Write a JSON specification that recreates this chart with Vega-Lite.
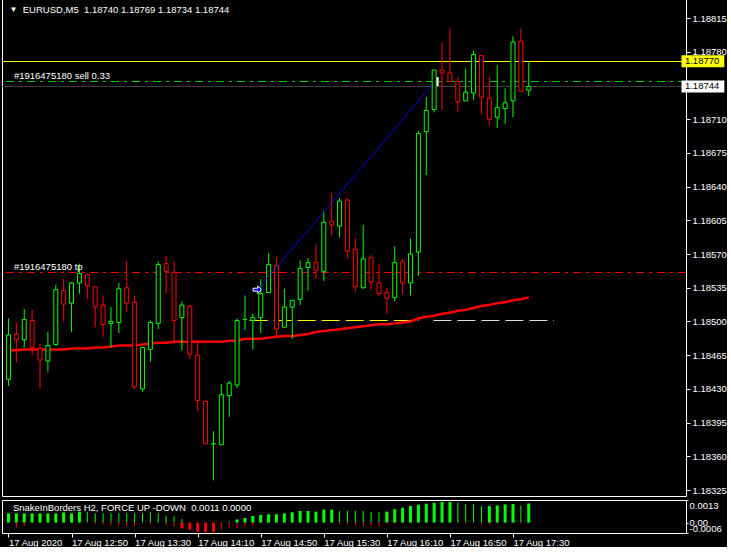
{
"$schema": "https://vega.github.io/schema/vega-lite/v6.json",
"background": "#000000",
"padding": {"left": 1, "top": -2, "right": 0, "bottom": 0},
"spacing": 2,
"config": {
  "view": {"stroke": "#ffffff", "strokeWidth": 1},
  "font": "Liberation Sans",
  "text": {"font": "Liberation Sans", "fontSize": 9.5, "color": "#ffffff"}
},
"datasets": {
  "candles": [
    {"i":0,"o":1.18440,"h":1.18503,"l":1.18433,"c":1.18486,"ma":1.18470},
    {"i":1,"o":1.18487,"h":1.18499,"l":1.18457,"c":1.18481,"ma":1.18470},
    {"i":2,"o":1.18481,"h":1.18513,"l":1.18473,"c":1.18502,"ma":1.18471},
    {"i":3,"o":1.18501,"h":1.18512,"l":1.18465,"c":1.18473,"ma":1.18471},
    {"i":4,"o":1.18472,"h":1.18477,"l":1.18430,"c":1.18460,"ma":1.18471},
    {"i":5,"o":1.18459,"h":1.18489,"l":1.18448,"c":1.18475,"ma":1.18471},
    {"i":6,"o":1.18476,"h":1.18538,"l":1.18475,"c":1.18533,"ma":1.18471},
    {"i":7,"o":1.18532,"h":1.18544,"l":1.18500,"c":1.18518,"ma":1.18471},
    {"i":8,"o":1.18519,"h":1.18541,"l":1.18489,"c":1.18540,"ma":1.18472},
    {"i":9,"o":1.18540,"h":1.18560,"l":1.18529,"c":1.18550,"ma":1.18472},
    {"i":10,"o":1.18549,"h":1.18549,"l":1.18523,"c":1.18537,"ma":1.18472},
    {"i":11,"o":1.18536,"h":1.18536,"l":1.18494,"c":1.18515,"ma":1.18473},
    {"i":12,"o":1.18517,"h":1.18527,"l":1.18484,"c":1.18497,"ma":1.18473},
    {"i":13,"o":1.18498,"h":1.18515,"l":1.18473,"c":1.18500,"ma":1.18474},
    {"i":14,"o":1.18499,"h":1.18540,"l":1.18488,"c":1.18534,"ma":1.18475},
    {"i":15,"o":1.18535,"h":1.18563,"l":1.18510,"c":1.18519,"ma":1.18475},
    {"i":16,"o":1.18520,"h":1.18527,"l":1.18430,"c":1.18432,"ma":1.18475},
    {"i":17,"o":1.18430,"h":1.18473,"l":1.18427,"c":1.18473,"ma":1.18476},
    {"i":18,"o":1.18471,"h":1.18501,"l":1.18458,"c":1.18499,"ma":1.18477},
    {"i":19,"o":1.18498,"h":1.18562,"l":1.18492,"c":1.18559,"ma":1.18478},
    {"i":20,"o":1.18560,"h":1.18568,"l":1.18529,"c":1.18552,"ma":1.18478},
    {"i":21,"o":1.18551,"h":1.18562,"l":1.18476,"c":1.18501,"ma":1.18479},
    {"i":22,"o":1.18504,"h":1.18521,"l":1.18470,"c":1.18517,"ma":1.18479},
    {"i":23,"o":1.18516,"h":1.18517,"l":1.18461,"c":1.18466,"ma":1.18479},
    {"i":24,"o":1.18465,"h":1.18478,"l":1.18407,"c":1.18418,"ma":1.18479},
    {"i":25,"o":1.18417,"h":1.18418,"l":1.18373,"c":1.18373,"ma":1.18479},
    {"i":26,"o":1.18373,"h":1.18386,"l":1.18335,"c":1.18373,"ma":1.18479},
    {"i":27,"o":1.18372,"h":1.18435,"l":1.18372,"c":1.18424,"ma":1.18479},
    {"i":28,"o":1.18423,"h":1.18438,"l":1.18401,"c":1.18436,"ma":1.18480},
    {"i":29,"o":1.18434,"h":1.18503,"l":1.18431,"c":1.18501,"ma":1.18480},
    {"i":30,"o":1.18502,"h":1.18527,"l":1.18491,"c":1.18502,"ma":1.18482},
    {"i":31,"o":1.18501,"h":1.18508,"l":1.18471,"c":1.18504,"ma":1.18482},
    {"i":32,"o":1.18504,"h":1.18544,"l":1.18488,"c":1.18529,"ma":1.18482},
    {"i":33,"o":1.18530,"h":1.18571,"l":1.18530,"c":1.18559,"ma":1.18483},
    {"i":34,"o":1.18558,"h":1.18567,"l":1.18485,"c":1.18492,"ma":1.18484},
    {"i":35,"o":1.18494,"h":1.18534,"l":1.18494,"c":1.18515,"ma":1.18485},
    {"i":36,"o":1.18515,"h":1.18522,"l":1.18482,"c":1.18522,"ma":1.18485},
    {"i":37,"o":1.18523,"h":1.18563,"l":1.18517,"c":1.18555,"ma":1.18486},
    {"i":38,"o":1.18556,"h":1.18566,"l":1.18532,"c":1.18561,"ma":1.18487},
    {"i":39,"o":1.18561,"h":1.18580,"l":1.18544,"c":1.18553,"ma":1.18489},
    {"i":40,"o":1.18552,"h":1.18615,"l":1.18542,"c":1.18603,"ma":1.18490},
    {"i":41,"o":1.18604,"h":1.18633,"l":1.18589,"c":1.18600,"ma":1.18491},
    {"i":42,"o":1.18599,"h":1.18628,"l":1.18587,"c":1.18625,"ma":1.18492},
    {"i":43,"o":1.18626,"h":1.18628,"l":1.18566,"c":1.18573,"ma":1.18493},
    {"i":44,"o":1.18575,"h":1.18586,"l":1.18531,"c":1.18536,"ma":1.18494},
    {"i":45,"o":1.18535,"h":1.18600,"l":1.18534,"c":1.18565,"ma":1.18495},
    {"i":46,"o":1.18566,"h":1.18569,"l":1.18533,"c":1.18541,"ma":1.18496},
    {"i":47,"o":1.18540,"h":1.18559,"l":1.18526,"c":1.18529,"ma":1.18497},
    {"i":48,"o":1.18530,"h":1.18535,"l":1.18508,"c":1.18524,"ma":1.18497},
    {"i":49,"o":1.18525,"h":1.18578,"l":1.18521,"c":1.18561,"ma":1.18498},
    {"i":50,"o":1.18562,"h":1.18565,"l":1.18528,"c":1.18540,"ma":1.18499},
    {"i":51,"o":1.18540,"h":1.18586,"l":1.18527,"c":1.18570,"ma":1.18500},
    {"i":52,"o":1.18572,"h":1.18698,"l":1.18547,"c":1.18695,"ma":1.18503},
    {"i":53,"o":1.18697,"h":1.18733,"l":1.18652,"c":1.18719,"ma":1.18505},
    {"i":54,"o":1.18720,"h":1.18761,"l":1.18717,"c":1.18761,"ma":1.18506},
    {"i":55,"o":1.18761,"h":1.18790,"l":1.18719,"c":1.18758,"ma":1.18508},
    {"i":56,"o":1.18758,"h":1.18804,"l":1.18749,"c":1.18749,"ma":1.18509},
    {"i":57,"o":1.18749,"h":1.18753,"l":1.18718,"c":1.18728,"ma":1.18511},
    {"i":58,"o":1.18729,"h":1.18762,"l":1.18729,"c":1.18738,"ma":1.18512},
    {"i":59,"o":1.18737,"h":1.18781,"l":1.18730,"c":1.18777,"ma":1.18514},
    {"i":60,"o":1.18776,"h":1.18776,"l":1.18715,"c":1.18733,"ma":1.18516},
    {"i":61,"o":1.18732,"h":1.18754,"l":1.18703,"c":1.18710,"ma":1.18517},
    {"i":62,"o":1.18712,"h":1.18766,"l":1.18701,"c":1.18722,"ma":1.18519},
    {"i":63,"o":1.18721,"h":1.18742,"l":1.18705,"c":1.18727,"ma":1.18520},
    {"i":64,"o":1.18729,"h":1.18796,"l":1.18712,"c":1.18790,"ma":1.18522},
    {"i":65,"o":1.18791,"h":1.18804,"l":1.18739,"c":1.18739,"ma":1.18523},
    {"i":66,"o":1.18740,"h":1.18769,"l":1.18734,"c":1.18744,"ma":1.18525}
  ],
  "ind": [
    {"i":0,"v":0.00053,"kind":"up"},{"i":1,"v":0.00053,"kind":"up"},{"i":2,"v":0.00053,"kind":"up"},{"i":3,"v":0.00053,"kind":"up"},
    {"i":4,"v":0.00053,"kind":"up"},{"i":5,"v":0.00053,"kind":"up"},{"i":6,"v":0.00053,"kind":"up"},{"i":7,"v":0.00059,"kind":"up"},
    {"i":8,"v":0.00053,"kind":"up"},{"i":9,"v":0.00063,"kind":"up"},
    {"i":10,"v":0.00059,"kind":"upw"},{"i":11,"v":0.00053,"kind":"upw"},{"i":12,"v":0.00053,"kind":"upw"},{"i":13,"v":0.00053,"kind":"upw"},
    {"i":14,"v":0.00053,"kind":"upw"},{"i":15,"v":0.00053,"kind":"upw"},{"i":16,"v":0.00053,"kind":"upw"},{"i":17,"v":0.00053,"kind":"upw"},
    {"i":18,"v":0.00059,"kind":"upw"},{"i":19,"v":0.00053,"kind":"upw"},{"i":20,"v":0.00040,"kind":"upw"},{"i":21,"v":0.00036,"kind":"upw"},
    {"i":22,"v":0.00020,"kind":"upw"},{"i":27,"v":0.00004,"kind":"upw"},{"i":28,"v":0.00006,"kind":"upw"},
    {"i":29,"v":0.00018,"kind":"up"},{"i":30,"v":0.00026,"kind":"up"},{"i":31,"v":0.00038,"kind":"up"},{"i":32,"v":0.00044,"kind":"up"},
    {"i":33,"v":0.00048,"kind":"up"},{"i":34,"v":0.00048,"kind":"up"},{"i":35,"v":0.00053,"kind":"up"},{"i":36,"v":0.00059,"kind":"up"},
    {"i":37,"v":0.00067,"kind":"up"},{"i":38,"v":0.00067,"kind":"up"},{"i":39,"v":0.00063,"kind":"up"},{"i":40,"v":0.00075,"kind":"up"},
    {"i":41,"v":0.00075,"kind":"up"},
    {"i":42,"v":0.00067,"kind":"upw"},{"i":43,"v":0.00067,"kind":"upw"},{"i":44,"v":0.00067,"kind":"upw"},{"i":45,"v":0.00067,"kind":"upw"},
    {"i":46,"v":0.00059,"kind":"upw"},{"i":47,"v":0.00059,"kind":"upw"},
    {"i":48,"v":0.00063,"kind":"up"},{"i":49,"v":0.00077,"kind":"up"},{"i":50,"v":0.00085,"kind":"up"},{"i":51,"v":0.00095,"kind":"up"},
    {"i":52,"v":0.00103,"kind":"up"},{"i":53,"v":0.00109,"kind":"up"},{"i":54,"v":0.00113,"kind":"up"},{"i":55,"v":0.00119,"kind":"up"},
    {"i":56,"v":0.00119,"kind":"up"},
    {"i":57,"v":0.00115,"kind":"upw"},{"i":58,"v":0.00105,"kind":"upw"},{"i":59,"v":0.00105,"kind":"upw"},{"i":60,"v":0.00095,"kind":"upw"},
    {"i":61,"v":0.00095,"kind":"up"},{"i":62,"v":0.00099,"kind":"up"},{"i":63,"v":0.00105,"kind":"up"},{"i":64,"v":0.00107,"kind":"up"},
    {"i":65,"v":0.00099,"kind":"upw"},{"i":66,"v":0.00110,"kind":"up"},
    {"i":1,"v":-0.00030,"kind":"dnw"},{"i":2,"v":-0.00020,"kind":"dnw"},{"i":11,"v":-0.00010,"kind":"dnw"},{"i":12,"v":-0.00010,"kind":"dnw"},
    {"i":13,"v":-0.00016,"kind":"dnw"},{"i":14,"v":-0.00016,"kind":"dnw"},{"i":15,"v":-0.00022,"kind":"dnw"},{"i":16,"v":-0.00022,"kind":"dnw"},
    {"i":18,"v":-0.00012,"kind":"dnw"},{"i":20,"v":-0.00016,"kind":"dnw"},{"i":21,"v":-0.00022,"kind":"dnw"},
    {"i":22,"v":-0.00034,"kind":"dn"},{"i":23,"v":-0.00040,"kind":"dn"},{"i":24,"v":-0.00052,"kind":"dn"},{"i":25,"v":-0.00055,"kind":"dn"},
    {"i":26,"v":-0.00055,"kind":"dn"},
    {"i":27,"v":-0.00040,"kind":"dnw"},{"i":28,"v":-0.00030,"kind":"dnw"},{"i":29,"v":-0.00032,"kind":"dnw"},{"i":30,"v":-0.00022,"kind":"dnw"},
    {"i":31,"v":-0.00016,"kind":"dnw"},{"i":42,"v":-0.00006,"kind":"dnw"},{"i":43,"v":-0.00012,"kind":"dnw"},{"i":44,"v":-0.00016,"kind":"dnw"},
    {"i":45,"v":-0.00022,"kind":"dnw"},{"i":46,"v":-0.00022,"kind":"dnw"},{"i":47,"v":-0.00022,"kind":"dnw"},{"i":48,"v":-0.00006,"kind":"dnw"},
    {"i":49,"v":-0.00006,"kind":"dnw"},{"i":58,"v":-0.00006,"kind":"dnw"},{"i":60,"v":-0.00010,"kind":"dnw"},{"i":61,"v":-0.00010,"kind":"dnw"},
    {"i":62,"v":-0.00006,"kind":"dnw"},{"i":65,"v":-0.00006,"kind":"dnw"}
  ]
},
"vconcat": [
  {
    "width": 684,
    "height": 497,
    "encoding": {
      "x": {"type": "quantitative", "scale": {"domain": [-0.1875, 85.3125], "nice": false, "zero": false}, "axis": null},
      "y": {"type": "quantitative", "title": null, "scale": {"domain": [1.183188, 1.1883474], "nice": false, "zero": false},
            "axis": {"orient": "right", "title": null, "domain": false, "grid": false, "zindex": 0, "values": [1.18325, 1.1836, 1.18395, 1.1843, 1.18465, 1.185, 1.18535, 1.1857, 1.18605, 1.1864, 1.18675, 1.1871, 1.1878, 1.18815], "format": ".5f", "tickSize": 4, "labelPadding": 2, "labelOverlap": false, "tickColor": "#ffffff", "labelColor": "#ffffff", "labelFont": "Liberation Sans", "labelFontSize": 9.5}}
    },
    "layer": [
      {
        "data": {"values": [{"p": 1.187439}]},
        "mark": {"type": "rule", "color": "#404040", "strokeWidth": 1},
        "encoding": {"y": {"field": "p"}}
      },
      {
        "data": {"values": [{"p": 1.1876986}]},
        "mark": {"type": "rule", "color": "#ffff00", "strokeWidth": 1},
        "encoding": {"y": {"field": "p"}}
      },
      {
        "data": {"values": [{"p": 1.187491}]},
        "mark": {"type": "rule", "color": "#00d000", "strokeWidth": 1, "strokeDash": [8, 5, 3, 5]},
        "encoding": {"y": {"field": "p"}}
      },
      {
        "data": {"values": [{"p": 1.1855082}]},
        "mark": {"type": "rule", "color": "#ff0000", "strokeWidth": 1, "strokeDash": [8, 5, 3, 5]},
        "encoding": {"y": {"field": "p"}}
      },
      {
        "data": {"values": [{"a": 30.6, "b": 52.0, "p": 1.1850099}]},
        "mark": {"type": "rule", "color": "#ffff00", "strokeWidth": 1, "strokeDash": [18, 6]},
        "encoding": {"x": {"field": "a"}, "x2": {"field": "b"}, "y": {"field": "p"}}
      },
      {
        "data": {"values": [{"a": 53.9, "b": 69.2, "p": 1.1850099}]},
        "mark": {"type": "rule", "color": "#e0e0e0", "strokeWidth": 1, "strokeDash": [18, 6]},
        "encoding": {"x": {"field": "a"}, "x2": {"field": "b"}, "y": {"field": "p"}}
      },
      {
        "data": {"name": "candles"},
        "mark": {"type": "line", "color": "#ff0000", "strokeWidth": 2.5, "clip": true},
        "encoding": {"x": {"field": "i"}, "y": {"field": "ma"}}
      },
      {
        "data": {"name": "candles"},
        "mark": {"type": "rule", "strokeWidth": 1, "clip": true},
        "encoding": {
          "x": {"field": "i"},
          "y": {"field": "l"},
          "y2": {"field": "h"},
          "color": {"condition": {"test": "datum.c >= datum.o", "value": "#00ff00"}, "value": "#ff0000"}
        }
      },
      {
        "data": {"name": "candles"},
        "mark": {"type": "bar", "orient": "vertical", "width": 4, "fill": "#000000", "strokeWidth": 1, "clip": true},
        "encoding": {
          "x": {"field": "i"},
          "y": {"field": "o"},
          "y2": {"field": "c"},
          "stroke": {"condition": {"test": "datum.c >= datum.o", "value": "#00ff00"}, "value": "#ff0000"}
        }
      },
      {
        "data": {"values": [{"a": 31.56, "b": 53.7, "p": 1.18533, "q": 1.18745}]},
        "mark": {"type": "rule", "color": "#0000ff", "strokeWidth": 1.5, "strokeDash": [1.5, 2]},
        "encoding": {"x": {"field": "a"}, "x2": {"field": "b"}, "y": {"field": "p"}, "y2": {"field": "q"}}
      },
      {
        "data": {"values": [{"a": 31.56, "p": 1.18533}]},
        "mark": {"type": "point", "shape": "M-1,-0.35L0.1,-0.35L0.1,-0.9L1,0L0.1,0.9L0.1,0.35L-1,0.35Z", "size": 70, "filled": true, "fill": "#0000ff", "stroke": "#ffffff", "strokeWidth": 1, "opacity": 1},
        "encoding": {"x": {"field": "a"}, "y": {"field": "p"}}
      },
      {
        "data": {"values": [{"a": 54.44, "p": 1.18749}]},
        "mark": {"type": "tick", "orient": "vertical", "color": "#ffffff", "size": 9, "thickness": 2, "opacity": 1},
        "encoding": {"x": {"field": "a"}, "y": {"field": "p"}}
      },
      {
        "data": {"values": [{"txt": "#1916475180 sell 0.33", "a": 0.6875, "p": 1.187548}, {"txt": "#1916475180 tp", "a": 0.6875, "p": 1.185565}, {"txt": "EURUSD,M5\u00a0 1.18740 1.18769 1.18734 1.18744", "a": 1.8125, "p": 1.18823}]},
        "mark": {"type": "text", "align": "left", "baseline": "middle", "color": "#ffffff"},
        "encoding": {"x": {"field": "a"}, "y": {"field": "p"}, "text": {"field": "txt"}}
      },
      {
        "data": {"values": [{"txt": "▼", "a": 0.625, "p": 1.18823}]},
        "mark": {"type": "text", "align": "center", "baseline": "middle", "color": "#ffffff", "fontSize": 8},
        "encoding": {"x": {"field": "a"}, "y": {"field": "p"}, "text": {"field": "txt"}}
      },
      {
        "data": {"values": [{"a": 85.375, "b": 90.8125, "p": 1.1876377, "q": 1.1877623}]},
        "mark": {"type": "rect", "color": "#ffff00"},
        "encoding": {"x": {"field": "a"}, "x2": {"field": "b"}, "y": {"field": "p"}, "y2": {"field": "q"}}
      },
      {
        "data": {"values": [{"a": 85.375, "b": 90.8125, "p": 1.1873777, "q": 1.1875023}]},
        "mark": {"type": "rect", "color": "#ffffff"},
        "encoding": {"x": {"field": "a"}, "x2": {"field": "b"}, "y": {"field": "p"}, "y2": {"field": "q"}}
      },
      {
        "data": {"values": [{"txt": "1.18770", "a": 85.8125, "p": 1.18770}, {"txt": "1.18744", "a": 85.8125, "p": 1.18744}]},
        "mark": {"type": "text", "align": "left", "baseline": "middle", "color": "#000000"},
        "encoding": {"x": {"field": "a"}, "y": {"field": "p"}, "text": {"field": "txt"}}
      }
    ]
  },
  {
    "width": 684,
    "height": 33,
    "encoding": {
      "x": {"type": "quantitative", "title": null, "scale": {"domain": [-0.1875, 85.3125], "nice": false, "zero": false},
            "axis": {"orient": "bottom", "title": null, "domain": false, "grid": false, "values": [0, 8, 16, 24, 32, 40, 48, 56, 64], "labelExpr": "datum.value == 0 ? '17 Aug 2020' : '17 Aug ' + floor((730 + 5 * datum.value) / 60) + ':' + ((730 + 5 * datum.value) % 60)", "labelAlign": "left", "labelBaseline": "top", "tickSize": 4, "labelPadding": 0, "labelOverlap": false, "labelFlush": false, "tickColor": "#ffffff", "labelColor": "#ffffff", "labelFont": "Liberation Sans", "labelFontSize": 9.5}},
      "y": {"type": "quantitative", "title": null, "scale": {"domain": [-0.0006, 0.0013], "nice": false, "zero": false},
            "axis": {"orient": "right", "title": null, "domain": false, "grid": false, "values": [0.0013, 0, -0.0006], "labelExpr": "datum.value > 0.001 ? '0.0013' : (datum.value < 0 ? '-0.0006' : '0.00')", "tickSize": 2, "labelPadding": 1, "labelOverlap": false, "tickColor": "#ffffff", "labelColor": "#ffffff", "labelFont": "Liberation Sans", "labelFontSize": 9.5,
                     "labelBaseline": {"condition": [{"test": "datum.value > 0.001", "value": "top"}, {"test": "datum.value < 0", "value": "bottom"}], "value": "middle"}}}
    },
    "layer": [
      {
        "data": {"name": "ind"},
        "transform": [{"filter": "datum.kind == 'up' || datum.kind == 'dn'"}],
        "mark": {"type": "bar", "orient": "vertical", "width": 3, "clip": true},
        "encoding": {
          "x": {"field": "i"},
          "y": {"field": "v"},
          "y2": {"datum": 0},
          "color": {"condition": {"test": "datum.v >= 0", "value": "#00ff00"}, "value": "#ff0000"}
        }
      },
      {
        "data": {"name": "ind"},
        "transform": [{"filter": "datum.kind == 'upw' || datum.kind == 'dnw'"}],
        "mark": {"type": "bar", "orient": "vertical", "width": 1, "clip": true},
        "encoding": {
          "x": {"field": "i"},
          "y": {"field": "v"},
          "y2": {"datum": 0},
          "color": {"condition": {"test": "datum.v >= 0", "value": "#00ff00"}, "value": "#ff0000"}
        }
      },
      {
        "data": {"values": [{"txt": "SnakeInBorders H2, FORCE UP -DOWN\u00a0 0.0011 0.0000", "a": 0.5625, "p": 0.000839}]},
        "mark": {"type": "text", "align": "left", "baseline": "middle", "color": "#ffffff"},
        "encoding": {"x": {"field": "a"}, "y": {"field": "p"}, "text": {"field": "txt"}}
      }
    ]
  }
]
}
